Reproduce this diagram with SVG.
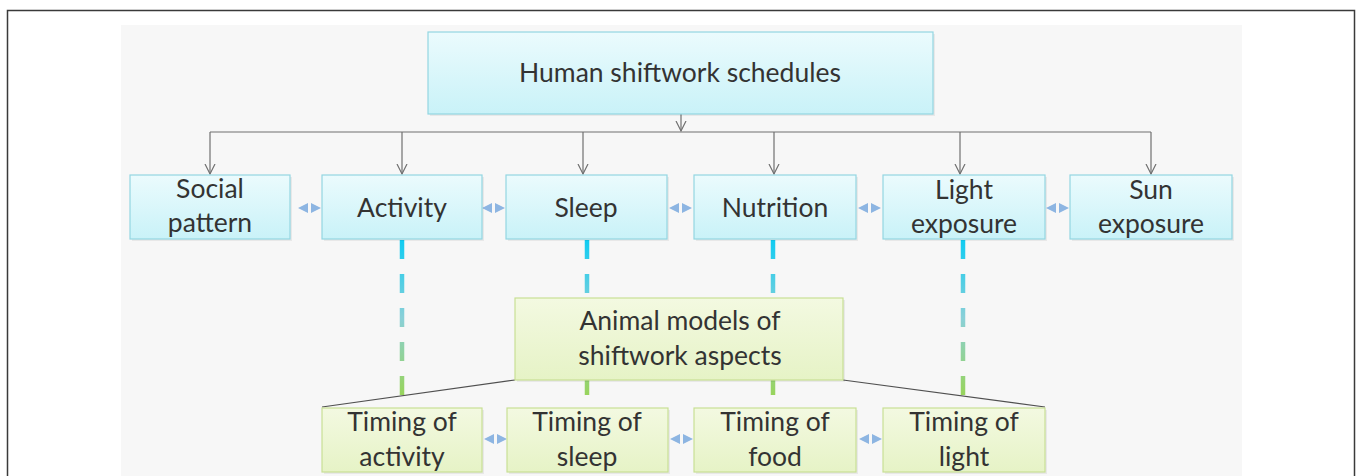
<svg xmlns="http://www.w3.org/2000/svg" width="1358" height="476" viewBox="0 0 1358 476">
<defs>
<linearGradient id="gBlue" x1="0" y1="0" x2="0" y2="1">
<stop offset="0" stop-color="#ebfbfd"/>
<stop offset="1" stop-color="#c9f2f8"/>
</linearGradient>
<linearGradient id="gGreen" x1="0" y1="0" x2="0" y2="1">
<stop offset="0" stop-color="#f3f9e1"/>
<stop offset="1" stop-color="#e6f3c6"/>
</linearGradient>
<linearGradient id="gDash" gradientUnits="userSpaceOnUse" x1="0" y1="240" x2="0" y2="396">
<stop offset="0" stop-color="#10ccf2"/>
<stop offset="0.5" stop-color="#8ad0d8"/>
<stop offset="1" stop-color="#98d45a"/>
</linearGradient>
<marker id="vArrow" markerUnits="userSpaceOnUse" markerWidth="12" markerHeight="12" refX="10" refY="5" orient="auto" viewBox="0 0 12 10">
<path d="M0,0 L10,5 L0,10" fill="none" stroke="#707070" stroke-width="1.2"/>
</marker>
<g id="dbl">
<polygon points="0,0 10,-5 10,5"/>
<polygon points="23,0 13,-5 13,5"/>
</g>
</defs>
<style>
.frame{fill:none;stroke:#3a3a3a;stroke-width:1.5}
.bg{fill:#f7f7f7}
.blue{fill:url(#gBlue);stroke:#93d6e2;stroke-width:1.2}
.green{fill:url(#gGreen);stroke:#c8df95;stroke-width:1.2}
.shadow{fill:#000;opacity:0.06}
.t{font-family:Lato,"Open Sans",sans-serif;font-size:26.5px;fill:#333333;text-anchor:middle}
.conn{fill:none;stroke:#707070;stroke-width:1.2}
.diag{fill:none;stroke:#505050;stroke-width:1.2}
.dash{fill:none;stroke:url(#gDash);stroke-width:4.5;stroke-dasharray:19 15}
.dbl{fill:#8db5e2}
</style>
<rect class="frame" x="7.5" y="10.5" width="1347" height="480"/>
<rect class="bg" x="121" y="25" width="1121" height="460"/>

<g id="connectors">
<path class="conn" d="M681,114 V131" marker-end="url(#vArrow)"/>
<path class="conn" d="M210,132 H1151"/>
<path class="conn" d="M210,132 V174" marker-end="url(#vArrow)"/>
<path class="conn" d="M402,132 V174" marker-end="url(#vArrow)"/>
<path class="conn" d="M583,132 V174" marker-end="url(#vArrow)"/>
<path class="conn" d="M774,132 V174" marker-end="url(#vArrow)"/>
<path class="conn" d="M960,132 V174" marker-end="url(#vArrow)"/>
<path class="conn" d="M1151,132 V174" marker-end="url(#vArrow)"/>
<path class="dash" d="M402,240 V396"/>
<path class="dash" d="M587,240 V396"/>
<path class="dash" d="M773,240 V396"/>
<path class="dash" d="M963,240 V396"/>
<path class="diag" d="M515,380 L322,407"/>
<path class="diag" d="M843,380 L1045,407"/>
<use href="#dbl" class="dbl" x="298" y="208"/>
<use href="#dbl" class="dbl" x="482" y="208"/>
<use href="#dbl" class="dbl" x="669" y="208"/>
<use href="#dbl" class="dbl" x="858" y="208"/>
<use href="#dbl" class="dbl" x="1046" y="208"/>
<use href="#dbl" class="dbl" x="484" y="439"/>
<use href="#dbl" class="dbl" x="670" y="439"/>
<use href="#dbl" class="dbl" x="859" y="439"/>
</g>

<g id="human">
<rect class="shadow" x="430" y="34" width="505" height="82"/>
<rect class="blue" x="428" y="32" width="505" height="82"/>
<text class="t" x="680" y="82">Human shiftwork schedules</text>
</g>
<g id="social">
<rect class="shadow" x="132" y="177" width="160" height="64"/>
<rect class="blue" x="130" y="175" width="160" height="64"/>
<text class="t" x="210" y="198">Social</text>
<text class="t" x="210" y="232">pattern</text>
</g>
<g id="activity">
<rect class="shadow" x="324" y="177" width="160" height="64"/>
<rect class="blue" x="322" y="175" width="160" height="64"/>
<text class="t" x="402" y="217">Activity</text>
</g>
<g id="sleep">
<rect class="shadow" x="508" y="177" width="161" height="64"/>
<rect class="blue" x="506" y="175" width="161" height="64"/>
<text class="t" x="586" y="217">Sleep</text>
</g>
<g id="nutrition">
<rect class="shadow" x="696" y="177" width="162" height="64"/>
<rect class="blue" x="694" y="175" width="162" height="64"/>
<text class="t" x="775" y="217">Nutrition</text>
</g>
<g id="light">
<rect class="shadow" x="885" y="177" width="162" height="64"/>
<rect class="blue" x="883" y="175" width="162" height="64"/>
<text class="t" x="964" y="199">Light</text>
<text class="t" x="964" y="233">exposure</text>
</g>
<g id="sun">
<rect class="shadow" x="1072" y="177" width="162" height="64"/>
<rect class="blue" x="1070" y="175" width="162" height="64"/>
<text class="t" x="1151" y="199">Sun</text>
<text class="t" x="1151" y="233">exposure</text>
</g>
<g id="animal">
<rect class="shadow" x="517" y="300" width="328" height="82"/>
<rect class="green" x="515" y="298" width="328" height="82"/>
<text class="t" x="680" y="330">Animal models of</text>
<text class="t" x="680" y="365">shiftwork aspects</text>
</g>
<g id="t-activity">
<rect class="shadow" x="324" y="410" width="160" height="64"/>
<rect class="green" x="322" y="408" width="160" height="64"/>
<text class="t" x="402" y="431">Timing of</text>
<text class="t" x="402" y="466">activity</text>
</g>
<g id="t-sleep">
<rect class="shadow" x="509" y="410" width="161" height="64"/>
<rect class="green" x="507" y="408" width="161" height="64"/>
<text class="t" x="587" y="431">Timing of</text>
<text class="t" x="587" y="466">sleep</text>
</g>
<g id="t-food">
<rect class="shadow" x="696" y="410" width="162" height="64"/>
<rect class="green" x="694" y="408" width="162" height="64"/>
<text class="t" x="775" y="431">Timing of</text>
<text class="t" x="775" y="466">food</text>
</g>
<g id="t-light">
<rect class="shadow" x="885" y="410" width="162" height="64"/>
<rect class="green" x="883" y="408" width="162" height="64"/>
<text class="t" x="964" y="431">Timing of</text>
<text class="t" x="964" y="466">light</text>
</g>
</svg>
